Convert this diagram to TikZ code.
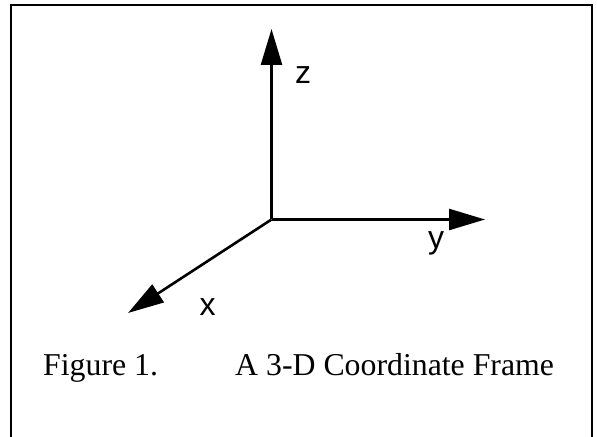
\documentclass[tikz,border=0pt]{standalone}
\usepackage{fontspec}
\setmainfont{Liberation Serif}
\newfontfamily\axisfont{Liberation Sans}
\usetikzlibrary{arrows.meta}
\begin{document}
\begin{tikzpicture}[x=1bp,y=-1bp,
  axis/.style={line width=2.6bp,-{Triangle[length=36bp,width=21bp]}},
  axlabel/.style={inner sep=0pt,font=\axisfont\fontsize{32bp}{38bp}\selectfont},
  caption/.style={inner sep=0pt,anchor=base west,font=\fontsize{31.8bp}{38bp}\selectfont},
  frameline/.style={line width=2.4bp}]
\useasboundingbox (0,0) rectangle (597,437);
\fill[white] (0,0) rectangle (597,437);
% frame (bottom edge cut off)
\draw[frameline] (11,437) -- (11,5) -- (592,5) -- (592,437);
% axes
\coordinate (O) at (271.5,219.5);
\coordinate (zt) at (271.5,29);
\coordinate (yt) at (485,219.5);
\coordinate (xt) at (128,313);
\draw[axis] (O) -- (zt);
\draw[axis] (O) -- (yt);
\draw[axis] (O) -- (xt);
\node[axlabel] (zl) at (303,75) {z};
\node[axlabel] (yl) at (436,243.5) {y};
\node[axlabel] (xl) at (207.5,307.5) {x};
% caption
\node[caption] (fig) at (43,375) {Figure 1.};
\node[caption] (cap) at (235,375) {A 3-D Coordinate Frame};
\end{tikzpicture}
\end{document}
